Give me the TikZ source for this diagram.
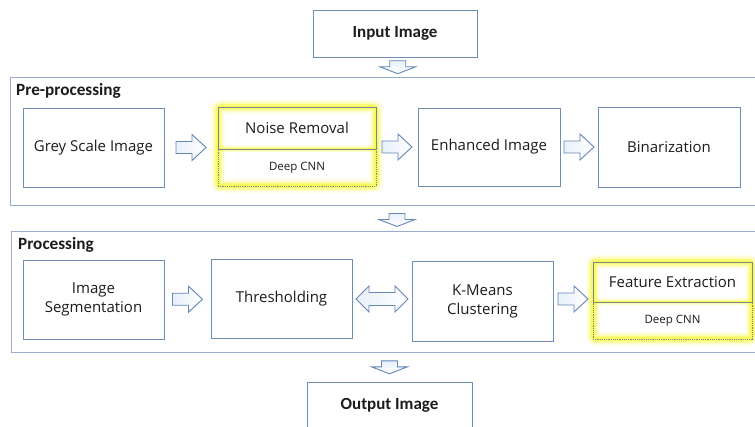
\documentclass[tikz,border=0pt]{standalone}
\usepackage{fontspec}
\setmainfont{Carlito}
\newfontfamily\boxfont{Open Sans}
\usetikzlibrary{calc}
\definecolor{boxblue}{RGB}{110,142,184}
\definecolor{framebl}{RGB}{150,172,202}
\definecolor{arrowbl}{RGB}{100,134,182}
\definecolor{arrowfill}{RGB}{232,240,250}
\definecolor{txt}{RGB}{28,28,28}
\definecolor{glowy}{RGB}{248,248,60}
\definecolor{hlgray}{RGB}{122,136,150}

\tikzset{
  box/.style={draw=boxblue, line width=0.9pt, fill=white, text=txt,
    font=\boxfont\fontsize{15}{19}\selectfont, align=center, inner sep=0pt},
  endbox/.style={draw=boxblue, line width=0.9pt, fill=white, text=txt,
    font=\bfseries\fontsize{17}{20}\selectfont, inner sep=0pt},
  hltop/.style={draw=hlgray, line width=0.9pt, text=txt,
    font=\boxfont\fontsize{15}{19}\selectfont, inner sep=0pt},
  hlbot/.style={draw=hlgray, line width=0.6pt, dash pattern=on 1.2pt off 1pt, text=txt,
    font=\boxfont\fontsize{11.5}{14}\selectfont, inner sep=0pt},
  frame/.style={draw=framebl, line width=1.1pt, inner sep=0pt},
  title/.style={font=\bfseries\fontsize{17.2}{20}\selectfont, text=txt, anchor=west, inner sep=0pt},
  blockarrow/.style={draw=arrowbl, line width=0.9pt, left color=arrowfill, right color=white, line join=miter},
  downarrow/.style={draw=arrowbl, line width=0.9pt, top color=arrowfill, bottom color=white, line join=miter},
  pics/rarr/.style={code={
    \path[blockarrow] (-15,-6) -- (1,-6) -- (1,-13) -- (15,0) -- (1,13) -- (1,6) -- (-15,6) -- cycle;}},
  pics/lrarr/.style={code={
    \path[blockarrow] (-26,0) -- (-13,-13) -- (-13,-6.5) -- (13,-6.5) -- (13,-13) -- (26,0)
      -- (13,13) -- (13,6.5) -- (-13,6.5) -- (-13,13) -- cycle;}},
  pics/darr/.style={code={
    \path[downarrow] (-8,-6.5) -- (8,-6.5) -- (8,-0.5) -- (18,-0.5) -- (0,6.5) -- (-18,-0.5)
      -- (-8,-0.5) -- cycle;}},
}

% soft yellow halo round a highlighted pair of boxes and along their divider
% arguments: left, top, right, bottom, divider height
\newcommand{\glowrect}[5]{%
  \foreach \w/\h/\o in {14/7/0.10, 11/5.5/0.15, 8/4/0.25, 5.5/2.75/0.4, 3/1.5/0.6}{
    \draw[glowy, line width=\w pt, opacity=\o, rounded corners=3pt] (#1,#2) rectangle (#3,#4);
    \draw[glowy, line width=\h pt, opacity=\o] (#1,#5) -- (#3,#5);}}

\begin{document}
\begin{tikzpicture}[x=1pt, y=-1pt]
  \useasboundingbox (0,0) rectangle (755,427);
  \clip (0,0) rectangle (755,427);
  \fill[white] (0,0) rectangle (755,427);

  % input
  \node[endbox, minimum width=164pt, minimum height=47pt] (inp) at (395,33.5) {Input Image};

  % pre-processing stage
  \node[frame, minimum width=760pt, minimum height=128pt, anchor=north west] (pre) at (10,77) {};
  \node[title] (pretitle) at (16,91) {Pre-processing};
  \node[box, minimum width=141pt, minimum height=79pt] (grey) at (93.5,147.5) {Grey Scale Image};
  \glowrect{218}{107}{376}{186}{149}
  \node[hltop, minimum width=158pt, minimum height=42pt] (noise) at (297,128) {Noise Removal};
  \node[hlbot, minimum width=158pt, minimum height=37pt] (noisecnn) at (297,167.5) {Deep CNN};
  \node[box, minimum width=142pt, minimum height=78pt] (enh) at (489,147) {Enhanced Image};
  \node[box, minimum width=142pt, minimum height=80pt] (bin) at (669,147) {Binarization};

  \pic at ($(grey.east)!0.5!(noise.west |- grey.east)$) {rarr};
  \pic at ($(noise.east |- enh.west)!0.5!(enh.west)$) {rarr};
  \pic at ($(enh.east)!0.5!(bin.west)$) {rarr};

  % processing stage
  \node[frame, minimum width=760pt, minimum height=121pt, anchor=north west] (proc) at (11,231) {};
  \node[title] (proctitle) at (18,245) {Processing};
  \node[box, minimum width=141pt, minimum height=79pt] (seg) at (93.5,299.5) {Image\\Segmentation};
  \node[box, minimum width=141pt, minimum height=79pt] (thr) at (281.5,299) {Thresholding};
  \node[box, minimum width=141pt, minimum height=80pt] (km) at (482.5,301) {K-Means\\Clustering};
  \glowrect{593}{262}{752}{339}{302}
  \node[hltop, minimum width=159pt, minimum height=40pt] (feat) at (672.5,282) {Feature Extraction};
  \node[hlbot, minimum width=159pt, minimum height=37pt] (featcnn) at (672.5,320.5) {Deep CNN};

  \pic at ($(seg.east)!0.5!(thr.west)$) {rarr};
  \pic at ($(thr.east)!0.5!(km.west |- thr.east)$) {lrarr};
  \pic at ($(km.east |- thr.east)!0.5!(feat.west |- thr.east)$) {rarr};

  % output
  \node[endbox, minimum width=165pt, minimum height=46pt] (out) at (389.5,405) {Output Image};

  % stage-to-stage arrows
  \pic at ($(inp.south)!0.5!(pre.north)+(5,0)$) {darr};
  \pic at (397,220) {darr};
  \pic at ($(proc.south)!0.5!(out.north)+(-1,0)$) {darr};
\end{tikzpicture}
\end{document}
